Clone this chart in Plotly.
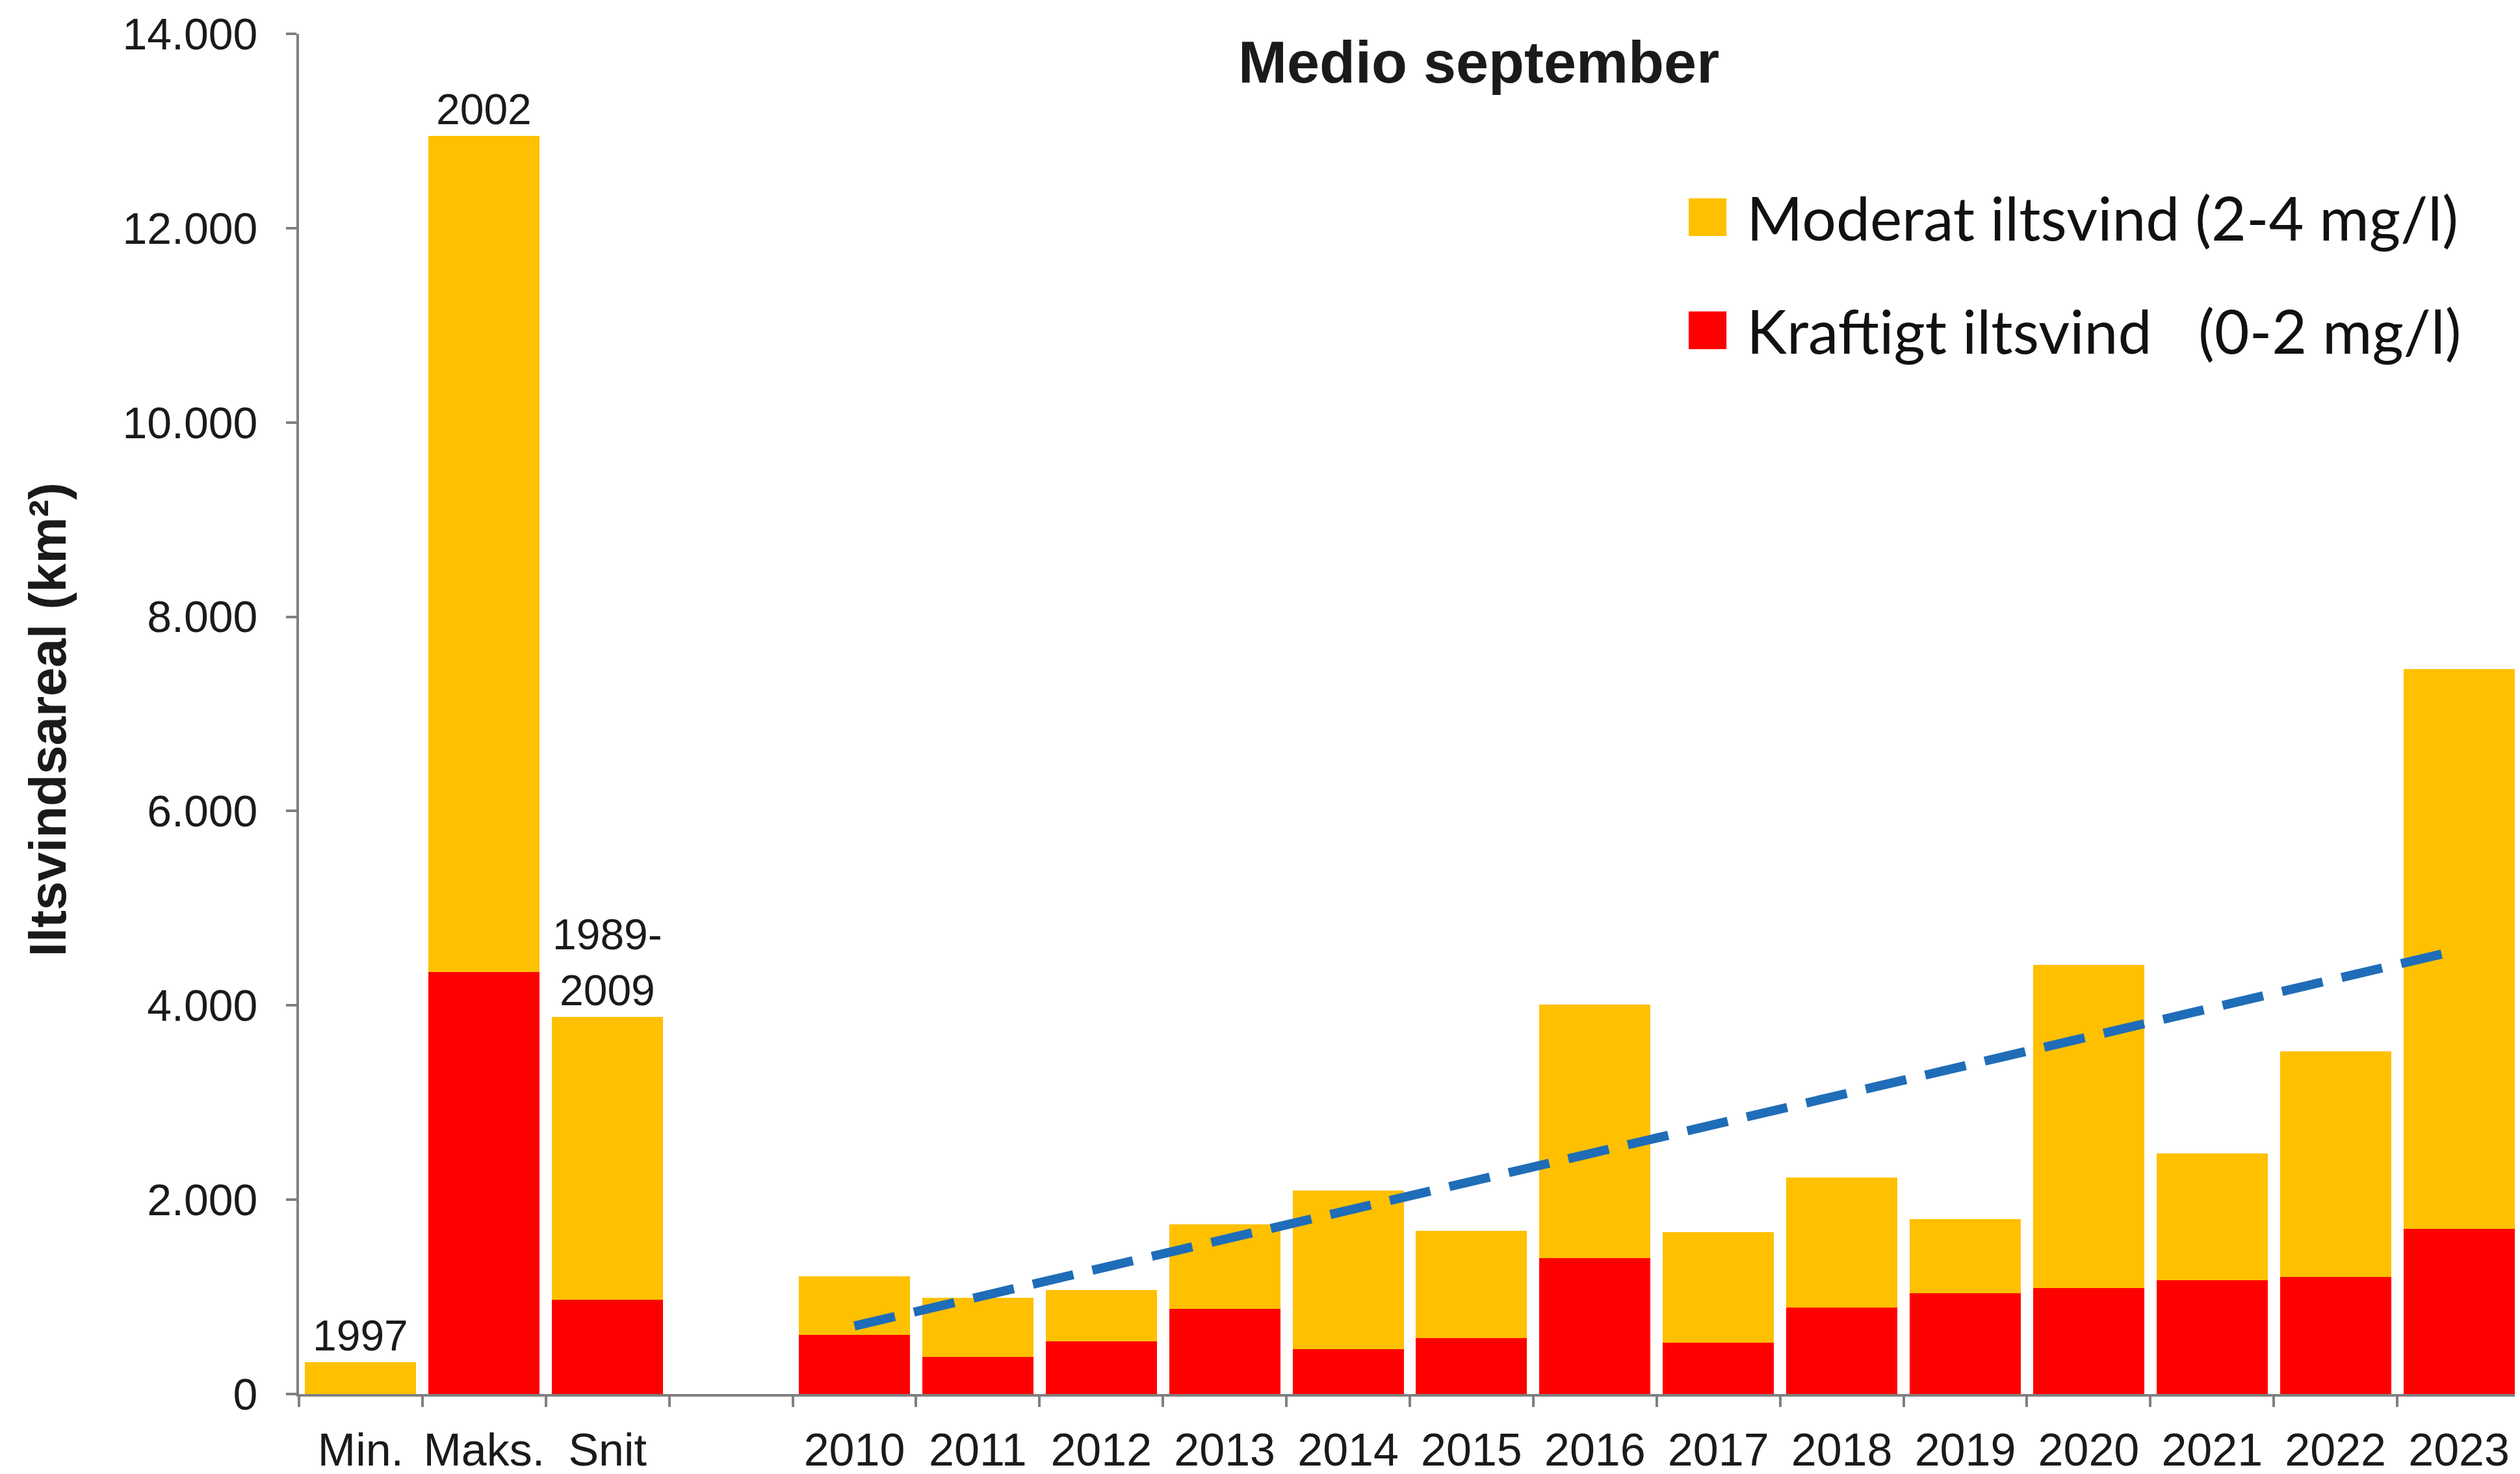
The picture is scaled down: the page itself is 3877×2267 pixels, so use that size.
import plotly.graph_objects as go

categories = ["Min.", "Maks.", "Snit", " ", "2010", "2011", "2012", "2013", "2014", "2015",
              "2016", "2017", "2018", "2019", "2020", "2021", "2022", "2023"]
kraftigt = [0, 4340, 970, None, 610, 380, 545, 875, 460, 578, 1400, 528, 890, 1040, 1090, 1170, 1205, 1700]
moderat = [330, 8610, 2910, None, 600, 610, 525, 875, 1635, 1105, 2610, 1140, 1340, 760, 3330, 1305, 2325, 5760]
trend_x = ["2010", "2023"]
trend_y = [700, 4570]
bar_labels = {"Min.": "1997", "Maks.": "2002", "Snit": "1989-<br>2009"}
y_ticks = [0, 2000, 4000, 6000, 8000, 10000, 12000, 14000]

YELLOW = "#FFC000"
RED = "#FF0000"
BLUE = "#1F6DB8"
FONT = "Liberation Sans, Arial, sans-serif"

fig = go.Figure()
fig.add_trace(go.Bar(x=categories, y=kraftigt, name="Kraftigt iltsvind (0-2 mg/l)",
                     marker=dict(color=RED, line=dict(width=0))))
fig.add_trace(go.Bar(x=categories, y=moderat, name="Moderat iltsvind (2-4 mg/l)",
                     marker=dict(color=YELLOW, line=dict(width=0))))
fig.add_trace(go.Scatter(x=trend_x, y=trend_y, mode="lines", name="Trend",
                         line=dict(color=BLUE, width=14, dash="64px,30px")))

totals = {c: (k or 0) + (m or 0) for c, k, m in zip(categories, kraftigt, moderat)}
annotations = []
for cat, txt in bar_labels.items():
    annotations.append(dict(x=cat, y=totals[cat], xref="x", yref="y", text=txt,
                            showarrow=False, yanchor="bottom", yshift=2,
                            font=dict(family=FONT, size=66, color="#1a1a1a")))

annotations.append(dict(x=0.531, y=0.979, xref="paper", yref="paper",
                        text="<b>Medio september</b>", showarrow=False,
                        xanchor="center", yanchor="middle",
                        font=dict(family=FONT, size=90, color="#1a1a1a")))
annotations.append(dict(x=-0.113, y=0.496, xref="paper", yref="paper",
                        text="<b>Iltsvindsareal (km²)</b>", showarrow=False, textangle=-90,
                        xanchor="center", yanchor="middle",
                        font=dict(family=FONT, size=80, color="#1a1a1a")))

LEG_FONT = "Lato, Noto Sans, sans-serif"
annotations.append(dict(x=0.623, y=0.870, xref="paper", yref="paper",
                        text="<span style='color:%s;font-size:120px'>■</span> Moderat iltsvind (2-4 mg/l)" % YELLOW,
                        showarrow=False, xanchor="left", yanchor="middle",
                        font=dict(family=LEG_FONT, size=93, color="#111111")))
annotations.append(dict(x=0.623, y=0.787, xref="paper", yref="paper",
                        text="<span style='color:%s;font-size:120px'>■</span> Kraftigt iltsvind &#160;&#160;(0-2 mg/l)" % RED,
                        showarrow=False, xanchor="left", yanchor="middle",
                        font=dict(family=LEG_FONT, size=93, color="#111111")))

fig.update_layout(
    width=3877, height=2267,
    barmode="stack", bargap=0.1,
    showlegend=False,
    paper_bgcolor="white", plot_bgcolor="white",
    margin=dict(l=452, r=7, t=44, b=131, autoexpand=False),
    separators=",.",
    annotations=annotations,
    font=dict(family=FONT, color="#1a1a1a"),
)
fig.update_xaxes(type="category", categoryorder="array", categoryarray=categories,
                 tickson="boundaries", ticks="outside", ticklen=16, tickwidth=4,
                 tickcolor="#808080", showline=True, linecolor="#808080", linewidth=4,
                 showgrid=False, tickangle=0, automargin=False, ticklabelstandoff=22,
                 tickfont=dict(family=FONT, size=70, color="#1a1a1a"),
                 fixedrange=True)
fig.update_yaxes(range=[0, 14000], tickvals=y_ticks, tickformat=",d",
                 ticks="outside", ticklen=16, tickwidth=4, tickcolor="#808080",
                 showline=True, linecolor="#808080", linewidth=4, showgrid=False,
                 zeroline=False, automargin=False, ticklabelstandoff=30,
                 tickfont=dict(family=FONT, size=68, color="#1a1a1a"),
                 fixedrange=True)

fig.write_html("out.html")
